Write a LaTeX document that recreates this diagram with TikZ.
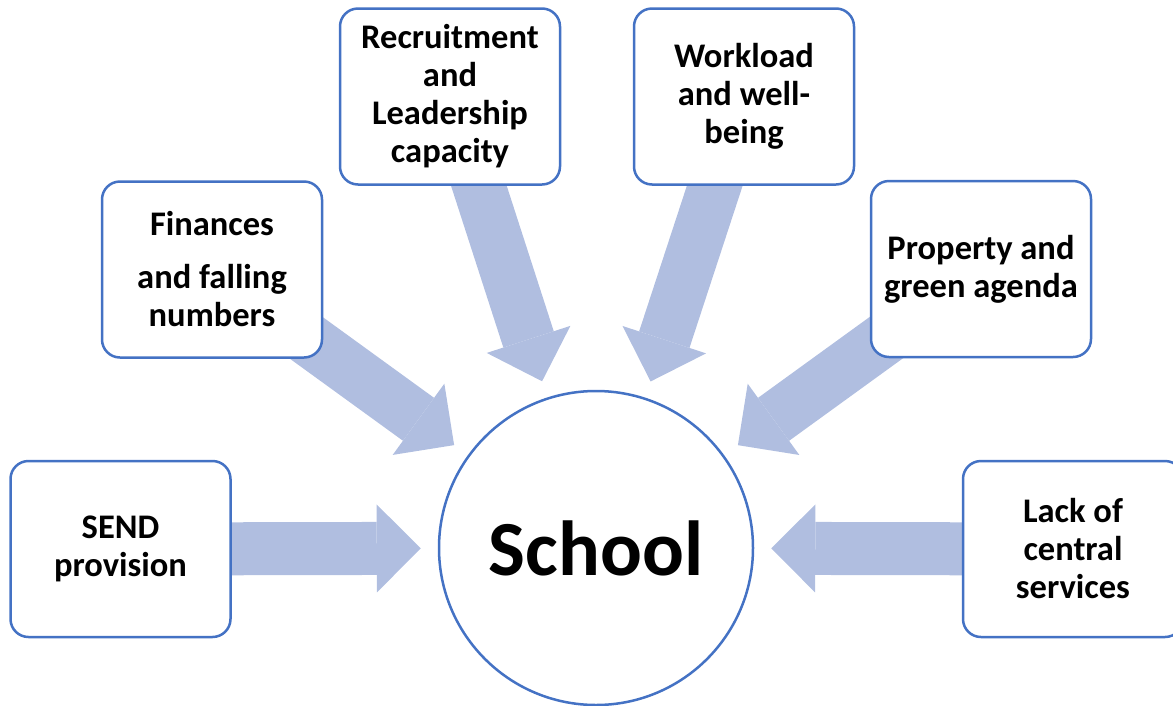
\documentclass[tikz,border=0pt]{standalone}
\usepackage{fontspec}
\setmainfont{Carlito}
\usepackage{tikz}
\usetikzlibrary{arrows.meta}
\usetikzlibrary{backgrounds}

\definecolor{boxblue}{HTML}{4472C4}
\definecolor{arrowblue}{HTML}{B0BEE0}

\begin{document}
\begin{tikzpicture}[x=1pt,y=-1pt,
    topic/.style={draw=boxblue, line width=2.5pt, fill=white, rounded corners=18pt,
        minimum width=220pt, minimum height=176pt, inner sep=0pt, align=center,
        font=\fontsize{34.5}{38}\selectfont\bfseries},
    hub/.style={circle, draw=boxblue, line width=2.5pt, fill=white, minimum size=314pt,
        font=\fontsize{78}{90}\selectfont\bfseries},
    push/.style={draw=arrowblue, line width=53pt, shorten >=17pt,
        -{Triangle[width=88pt,length=44pt,line width=0pt]}}]
    \useasboundingbox (0,0) rectangle (1173,705);
    \node[hub] (school) at (596,548) {School};
    \node[topic] (send) at (120.5,549) {SEND\\provision};
    \node[topic] (finances) at (212,269.5) {Finances\\[15pt]and falling\\numbers};
    \node[topic] (recruitment) at (450,96.5) {Recruitment\\and\\Leadership\\capacity};
    \node[topic] (workload) at (744,96.5) {Workload\\and well-\\being};
    \node[topic] (property) at (981,269) {Property and\\green agenda};
    \node[topic] (central) at (1073,549) {Lack of\\central\\services};
    \begin{pgfonlayer}{background}
        \foreach \src in {send,finances,recruitment,workload,property,central}
            \draw[push] (\src.center) -- (school);
    \end{pgfonlayer}
\end{tikzpicture}
\end{document}
